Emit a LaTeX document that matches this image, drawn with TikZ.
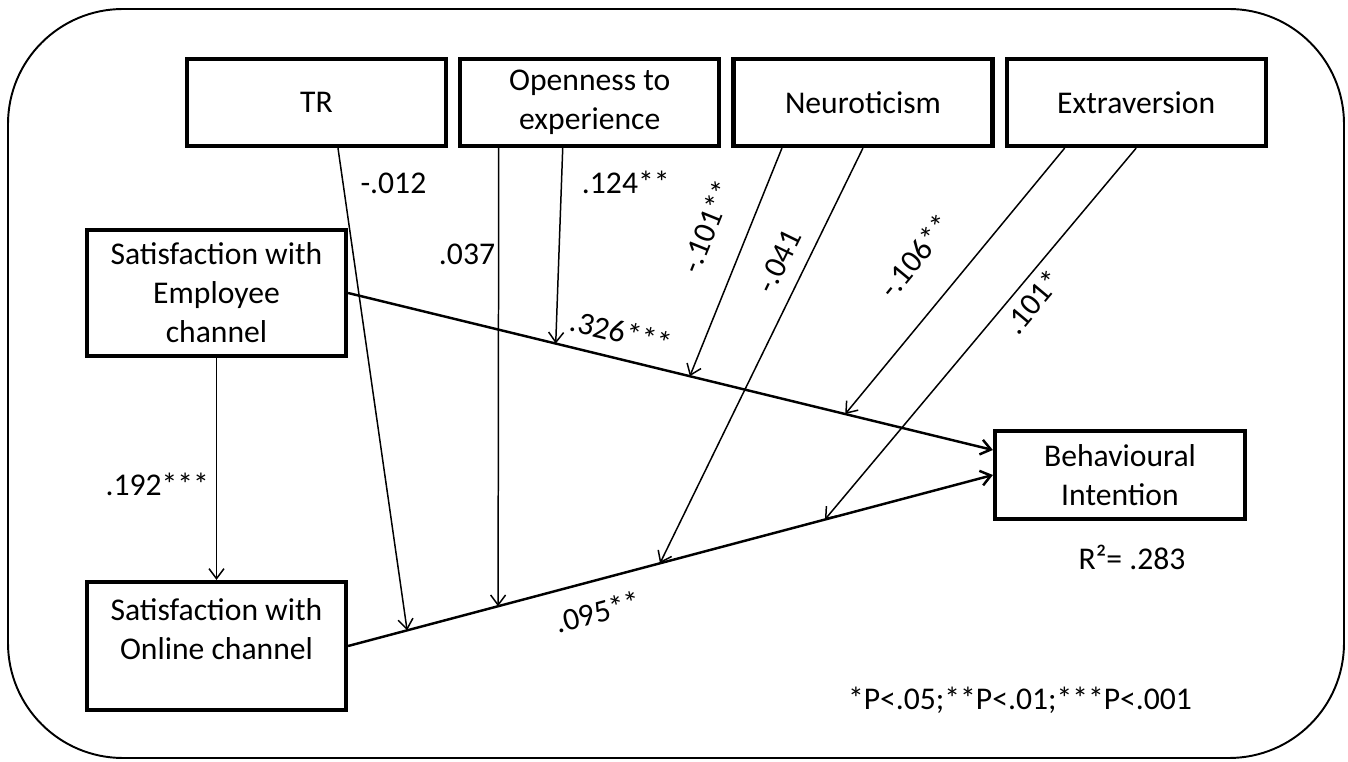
\documentclass[tikz,border=0pt]{standalone}
\usepackage{fontspec}
\setmainfont{Carlito}
\usepackage{tikz}
\usetikzlibrary{arrows.meta,calc,positioning}
\tikzset{
  box/.style      = {draw, line width=2.4pt, align=center, minimum width=51.8mm, minimum height=17.4mm, inner sep=2pt},
  line/.style     = {->, line width=0.85pt, >={Straight Barb[length=2mm,width=3mm]}},
  mainline/.style = {line, line width=1.4pt},
  coef/.style     = {inner sep=1pt},
}

\begin{document}
\begin{tikzpicture}[x=0.2mm, y=-0.2mm, font=\fontsize{18}{22.2}\selectfont]
    \useasboundingbox (0,0) rectangle (1348,762);
    % Frame
    \draw[line width=1.1pt, rounded corners=23mm] (8,9) rectangle (1344,758);

    % Moderators
    \node[box] (tr) at (316.5,102.5) {TR};
    \node[box, right=2mm of tr] (open) {Openness to\\experience};
    \node[box, right=2mm of open] (neur) {Neuroticism};
    \node[box, right=2mm of neur] (extra) {Extraversion};

    % Channels and outcome
    \node[box, minimum height=25.2mm] (emp) at (216.5,293) {Satisfaction with\\Employee\\channel};
    \node[box, minimum height=25.6mm, text depth=6.8mm] (online) at (216.5,646) {Satisfaction with\\Online channel};
    \node[box, minimum width=50mm, minimum height=17.6mm] (behav) at (1120,475) {Behavioural\\Intention};
    \node[coef, below=4.4mm of behav, xshift=2.4mm] (rsq) {R²= .283};
    \node[coef] (note) at (1020,700) {*P<.05;**P<.01;***P<.001};

    % Edges: direct paths
    \draw[line] (emp) -- (online) node[coef, pos=.57, left=1mm] {.192***};
    \draw[mainline] (emp.east) -- coordinate[pos=.322] (a1) coordinate[pos=.53] (a2) coordinate[pos=.771] (a3)
        ([yshift=5mm]behav.west) node[coef, pos=.414, above=2.5mm, sloped] {.326***};
    \draw[mainline] (online.east) -- coordinate[pos=.0915] (b1) coordinate[pos=.2326] (b2) coordinate[pos=.4837] (b3) coordinate[pos=.7395] (b4)
        (behav.west) node[coef, pos=.375, below=3.3mm, sloped] {.095**};

    % Edges: moderation
    \draw[line] ([xshift=4.3mm]tr.south) -- (b1) node[coef, pos=.073, right=3mm] {-.012};
    \draw[line] ([xshift=-18.2mm]open.south) -- (b2) node[coef, pos=.233, left=0.2mm] {.037};
    \draw[line] ([xshift=-5.4mm]open.south) -- (a1) node[coef, pos=.178, right=3.6mm] {.124**};
    \draw[line] ([xshift=-16.2mm]neur.south) -- (a2) node[coef, pos=.41, above=5.2mm, sloped] {-.101**};
    \draw[line] (neur.south) -- (b3) node[coef, pos=.30, above=2.6mm, sloped] {-.041};
    \draw[line] ([xshift=-14.3mm]extra.south) -- (a3) node[coef, pos=.517, above=6.5mm, sloped] {-.106**};
    \draw[line] (extra.south) -- (b4) node[coef, pos=.38, below=1.1mm, sloped] {.101*};
\end{tikzpicture}
\end{document}
